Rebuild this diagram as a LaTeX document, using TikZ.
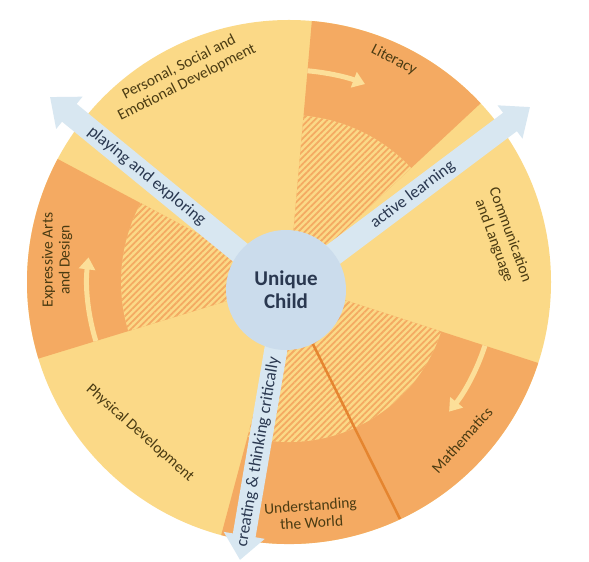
\documentclass[tikz,border=0pt]{standalone}
\usepackage{fontspec}
\setmainfont{Carlito}
\usepackage{tikz}
\usetikzlibrary{arrows.meta,patterns.meta,backgrounds}

\definecolor{sunny}{HTML}{FBD987}
\definecolor{peach}{HTML}{F4AA62}
\definecolor{rust}{HTML}{E5852F}
\definecolor{sky}{HTML}{D8E7F1}
\definecolor{childblue}{HTML}{CBDCEC}
\definecolor{ink}{HTML}{4A3B12}
\definecolor{slate}{HTML}{2A3850}

\begin{document}
\begin{tikzpicture}[x=1pt,y=1pt,
  area/.style={font=\fontsize{15.5}{17}\selectfont, text=ink, align=center},
  way/.style={line width=23pt, color=sky, -{Triangle[width=40pt,length=25pt]}},
  waytext/.style={font=\fontsize{17}{19}\selectfont, text=slate, sloped},
  turn/.style={line width=5pt, color=sunny!85!white, -{Triangle[width=16pt,length=12pt]}},
  hatch/.style={fill=sunny, postaction={pattern={Lines[angle=45,distance=4.5pt,line width=1.8pt]}, pattern color=peach}}]
\useasboundingbox (0,0) rectangle (589,562);
\coordinate (O) at (289,280);
% Unique Child
\node[circle, fill=childblue, minimum size=120pt, align=center, text=slate, font=\fontsize{21}{23}\selectfont\bfseries] (child) at (286,272) {Unique\\Child};
\begin{scope}[on background layer]
\fill[white] (0,0) rectangle (589,562);
% areas
\fill[sunny] (O) circle (262);
\fill[peach] (O) -- ++(43:262) arc[start angle=43, end angle=85, radius=262] -- cycle;
\fill[peach] (O) -- ++(-105:262) arc[start angle=-105, end angle=-18, radius=262] -- cycle;
\fill[peach] (O) -- ++(152:262) arc[start angle=152, end angle=197, radius=262] -- cycle;
% hatched inner parts
\fill[hatch] (O) -- ++(43:167) arc[start angle=43, end angle=85, radius=167] -- cycle;
\fill[hatch] (O) -- ++(-105:160) arc[start angle=-105, end angle=-18, radius=160] -- cycle;
\fill[hatch] (O) -- ++(152:168) arc[start angle=152, end angle=197, radius=168] -- cycle;
% border Mathematics / Understanding the World
\coordinate (mathedge) at (400,43);
\draw[rust, line width=2.5pt] (child) -- (mathedge);
% turning arrows
\draw[turn] (O) ++(85:212) arc[start angle=85, end angle=69, radius=212];
\draw[turn] (O) ++(197:202) arc[start angle=197, end angle=173, radius=202];
\draw[turn] (O) ++(-18:206) arc[start angle=-18, end angle=-39, radius=206];
% characteristics of learning
\coordinate (playtip) at (50,465);
\coordinate (activetip) at (530,455);
\coordinate (createtip) at (240,2);
\draw[way] (child.center) -- node[waytext, pos=0.59] {playing and exploring} (playtip);
\draw[way] (child.center) -- node[waytext, pos=0.52] {active learning} (activetip);
\draw[way] (child.center) -- node[waytext, pos=0.60] {creating \& thinking critically} (createtip);
\end{scope}
% labels
\node[area, rotate=27] (psed) at (183,487) {Personal, Social and\\Emotional Development};
\node[area, rotate=-27] (literacy) at (394,502) {Literacy};
\node[area, rotate=-70] (commlang) at (502,324) {Communication\\and Language};
\node[area, rotate=48] (maths) at (462,122) {Mathematics};
\node[area, rotate=4] (world) at (311,48) {Understanding\\the World};
\node[area, rotate=-41.5] (physical) at (140,129) {Physical Development};
\node[area, rotate=90] (arts) at (57,302) {Expressive Arts\\and Design};
\end{tikzpicture}
\end{document}
